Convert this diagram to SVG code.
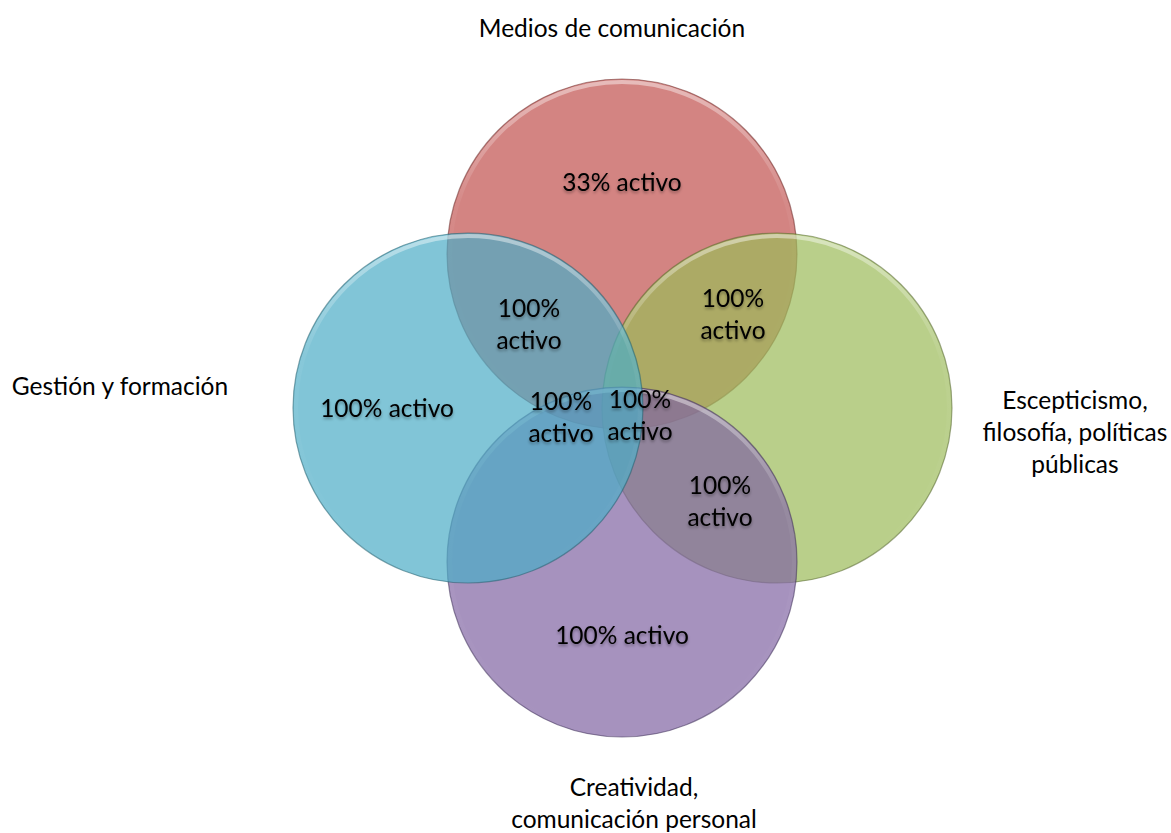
<svg xmlns="http://www.w3.org/2000/svg" width="1171" height="833" viewBox="0 0 1171 833">
  <defs>
    <style>
      .lbl { font-family: Lato, "Open Sans", "Liberation Sans", sans-serif; font-size: 24.5px; fill: #000; text-anchor: middle; }
      .circ { fill-opacity: 0.7; stroke-width: 1.2; stroke-opacity: 0.55; }
      .rim { fill: none; stroke: url(#rimGrad); stroke-width: 4; }
    </style>
    <linearGradient id="rimGrad" x1="0" y1="0" x2="0" y2="1">
      <stop offset="0" stop-color="#ffffff" stop-opacity="0.45"/>
      <stop offset="0.35" stop-color="#ffffff" stop-opacity="0.05"/>
      <stop offset="1" stop-color="#ffffff" stop-opacity="0"/>
    </linearGradient>
    <filter id="txtShadow" x="-10%" y="-30%" width="120%" height="160%">
      <feGaussianBlur in="SourceAlpha" stdDeviation="1.5"/>
      <feOffset dx="0" dy="1.5" result="b"/>
      <feComponentTransfer><feFuncA type="linear" slope="0.35"/></feComponentTransfer>
      <feMerge><feMergeNode/><feMergeNode in="SourceGraphic"/></feMerge>
    </filter>
  </defs>
  <rect width="1171" height="833" fill="#ffffff"/>

  <g id="node-medios">
    <circle class="circ" cx="622" cy="254" r="175" fill="#c0504d" stroke="#6e2e2c"/>
    <circle class="rim" cx="622" cy="254" r="172"/>
  </g>
  <g id="node-escepticismo">
    <circle class="circ" cx="777" cy="408" r="175" fill="#9bbb59" stroke="#55662f"/>
    <circle class="rim" cx="777" cy="408" r="172"/>
  </g>
  <g id="node-creatividad">
    <circle class="circ" cx="622" cy="562" r="175" fill="#8064a2" stroke="#40325a"/>
    <circle class="rim" cx="622" cy="562" r="172"/>
  </g>
  <g id="node-gestion">
    <circle class="circ" cx="468" cy="408" r="175" fill="#4bacc6" stroke="#25606f"/>
    <circle class="rim" cx="468" cy="408" r="172"/>
  </g>

  <g id="connectors"></g>

  <g id="region-labels" filter="url(#txtShadow)">
    <text class="lbl" x="622" y="191">33% activo</text>
    <text class="lbl" x="387" y="417">100% activo</text>
    <text class="lbl" x="622" y="644">100% activo</text>
    <text class="lbl" x="529" y="317">100%</text>
    <text class="lbl" x="529" y="349">activo</text>
    <text class="lbl" x="733" y="307">100%</text>
    <text class="lbl" x="733" y="339">activo</text>
    <text class="lbl" x="561" y="410">100%</text>
    <text class="lbl" x="561" y="442">activo</text>
    <text class="lbl" x="640" y="408">100%</text>
    <text class="lbl" x="640" y="440">activo</text>
    <text class="lbl" x="720" y="494">100%</text>
    <text class="lbl" x="720" y="526">activo</text>
  </g>

  <g id="outer-labels">
    <text class="lbl" x="612" y="37">Medios de comunicación</text>
    <text class="lbl" x="120" y="395">Gestión y formación</text>
    <text class="lbl" x="1075" y="409">Escepticismo,</text>
    <text class="lbl" x="1075" y="441">filosofía, políticas</text>
    <text class="lbl" x="1075" y="473">públicas</text>
    <text class="lbl" x="634" y="796">Creatividad,</text>
    <text class="lbl" x="634" y="828">comunicación personal</text>
  </g>
</svg>
